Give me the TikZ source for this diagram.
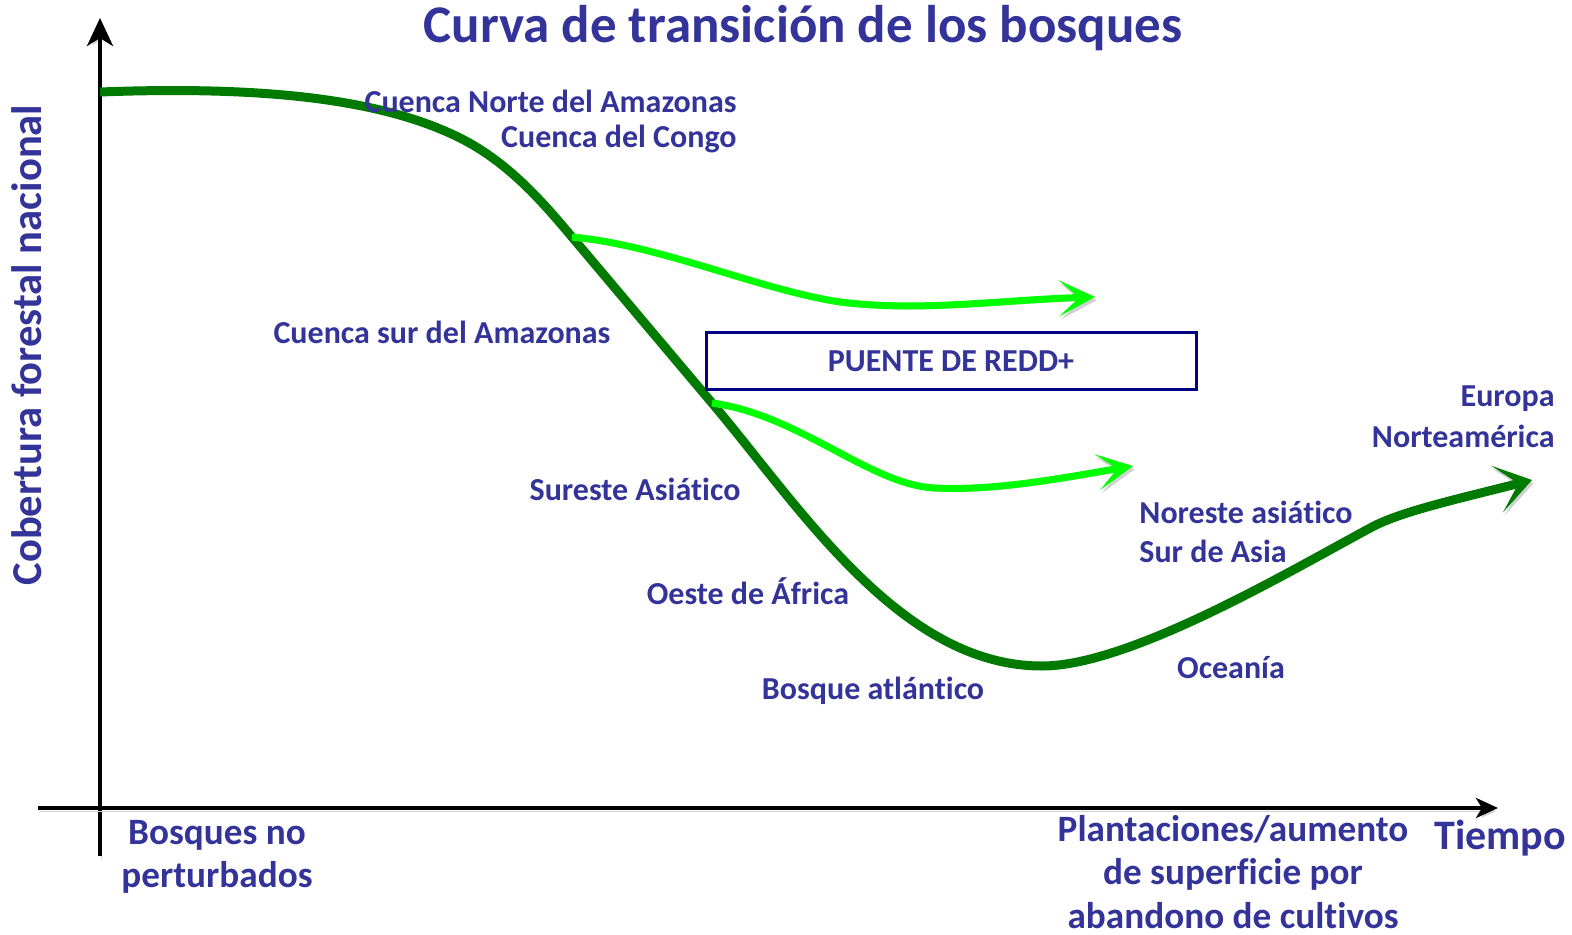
\documentclass[tikz,border=0pt]{standalone}
\usepackage{fontspec}
\setmainfont{Carlito}[Ligatures=NoCommon]
\usetikzlibrary{arrows.meta}
\definecolor{txt}{HTML}{333399}
\definecolor{dgreen}{HTML}{007A00}
\definecolor{lgreen}{HTML}{00FF00}
\definecolor{navyc}{HTML}{000080}
\definecolor{shade}{HTML}{D0D0D0}
\begin{document}
\begin{tikzpicture}[x=0.5pt,y=-0.5pt,
  lbl/.style={text=txt,font=\bfseries\fontsize{16}{19}\selectfont,inner sep=0pt},
  big/.style={text=txt,font=\bfseries\fontsize{18.6}{21.6}\selectfont,inner sep=0pt,align=center},
  shadowed/.style={preaction={draw=shade,transform canvas={shift={(0.8pt,-1.6pt)}}}},
  axis/.style={draw=black,line width=2pt,shadowed},
  dcurve/.style={draw=dgreen,line width=4.5pt,shadowed,-{Stealth[length=18pt,width=24pt,inset=11pt]}},
  lcurve/.style={draw=lgreen,line width=3.5pt,shadowed,-{Stealth[length=18pt,width=18pt,inset=10pt]}},
  bridge/.style={draw=navyc,line width=1.5pt,minimum width=245pt,minimum height=28.5pt,inner sep=0pt}
]
\useasboundingbox (0,0) rectangle (1572,935);

% axes
\coordinate (yb) at (100,856);
\coordinate (yt) at (100,18);
\coordinate (xl) at (38,808);
\coordinate (xr) at (1498,808);
\draw[axis,-{Stealth[length=14pt,width=13pt,inset=4pt]}] (yb) -- (yt);
\draw[axis,-{Stealth[length=11pt,width=10pt,inset=3pt]}] (xl) -- (xr);

% main curve
\coordinate (c0) at (100,92);
\coordinate (c1) at (460,138);
\coordinate (s1) at (572,237);
\coordinate (s2) at (712,403);
\coordinate (c2) at (1042,666);
\coordinate (c3) at (1372,527);
\coordinate (c4) at (1532,480);
\draw[dcurve] (c0) .. controls (260,86) and (380,98) .. (c1)
  .. controls (510,163) and (545,205) .. (s1)
  -- (s2)
  .. controls (800,507) and (900,666) .. (c2)
  .. controls (1130,666) and (1290,571) .. (c3)
  .. controls (1402,511) and (1462,498) .. (c4);

% REDD+ arrows
\coordinate (a1) at (1095,297);
\coordinate (b1) at (1133,466);
\draw[lcurve] (s1) .. controls (660,245) and (760,290) .. (840,302)
  .. controls (920,312) and (1000,300) .. (a1);
\draw[lcurve] (s2) .. controls (800,415) and (870,485) .. (935,488)
  .. controls (995,491) and (1062,478) .. (b1);

% box
\node[bridge] (redd) at (951,361) {};
\node[lbl] (reddt) at (951,361) {PUENTE DE REDD+};

% title and axis labels
\node[text=txt,font=\bfseries\fontsize{26.5}{30}\selectfont,inner sep=0pt] (title) at (803,28) {Curva de transición de los bosques};
\node[text=txt,font=\bfseries\fontsize{21.3}{25}\selectfont,inner sep=0pt,rotate=90] (ylab) at (27,345) {Cobertura forestal nacional};
\node[text=txt,font=\bfseries\fontsize{21}{25}\selectfont,inner sep=0pt] (tiempo) at (1500,838) {Tiempo};
\node[big] (undist) at (217,857) {Bosques no\\perturbados};
\node[big] (plant) at (1233,872) {Plantaciones/aumento\\de superficie por\\abandono de cultivos};

% region labels
\node[lbl,anchor=east] (l1) at (737,101) {Cuenca Norte del Amazonas};
\node[lbl,anchor=east] (l2) at (737,139) {Cuenca del Congo};
\node[lbl] (l3) at (442,332) {Cuenca sur del Amazonas};
\node[lbl] (l4) at (635,489) {Sureste Asiático};
\node[lbl] (l5) at (748,591) {Oeste de África};
\node[lbl] (l6) at (873,691) {Bosque atlántico};
\node[lbl] (l7) at (1231,668) {Oceanía};
\node[lbl,anchor=west] (l8) at (1139,512) {Noreste asiático};
\node[lbl,anchor=west] (l9) at (1139,551) {Sur de Asia};
\node[lbl,anchor=east] (l10) at (1555,399) {Europa};
\node[lbl,anchor=east] (l11) at (1555,436) {Norteamérica};
\end{tikzpicture}
\end{document}
